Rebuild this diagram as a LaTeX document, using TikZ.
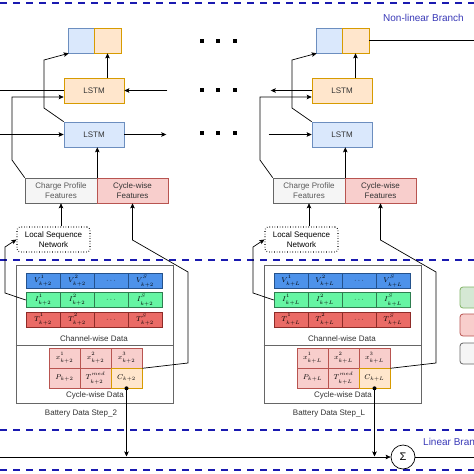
\documentclass[tikz,border=0pt]{standalone}
\usepackage{fontspec}
\setmainfont{Liberation Sans}
\usetikzlibrary{arrows.meta}
\definecolor{dashblue}{HTML}{1A1AB0}
\definecolor{branchblue}{HTML}{3A3AB8}
\definecolor{lblue}{HTML}{DAE8FC}
\definecolor{lblueD}{HTML}{6C8EBF}
\definecolor{lorange}{HTML}{FFE6CC}
\definecolor{lorangeD}{HTML}{D79B00}
\definecolor{lred}{HTML}{F8CECC}
\definecolor{lredD}{HTML}{B85450}
\definecolor{lgray}{HTML}{F5F5F5}
\definecolor{lgrayD}{HTML}{666666}
\definecolor{lgreen}{HTML}{D5E8D4}
\definecolor{lgreenD}{HTML}{82B366}
\definecolor{vfill}{HTML}{4D92EA}
\definecolor{vdraw}{HTML}{24528C}
\definecolor{ifill}{HTML}{66F5A3}
\definecolor{idraw}{HTML}{2E7D4F}
\definecolor{tfill}{HTML}{EA6B66}
\definecolor{tdraw}{HTML}{8E2B28}
\definecolor{txtdark}{HTML}{333333}
\definecolor{txtgray}{HTML}{5A5A5A}
\definecolor{boxgray}{HTML}{666666}
\newcommand{\smath}[3]{$#1^{\raisebox{1.2pt}{$\scriptstyle #2$}}_{\raisebox{-1.2pt}{$\scriptstyle #3$}}$}
\tikzset{
  base/.style={draw, line width=0.6pt, inner sep=0pt, align=center, font=\fontsize{8}{10}\selectfont, text=txtdark},
  lstmBlue/.style={base, fill=lblue, draw=lblueD, minimum width=60pt, minimum height=25pt},
  lstmOrange/.style={base, fill=lorange, draw=lorangeD, minimum width=60pt, minimum height=25pt},
  feat/.style={base, minimum width=72pt, minimum height=25pt},
  lsnbox/.style={base, text=black, draw=black, dotted, line width=1.1pt, rounded corners=3pt, minimum width=73pt, minimum height=25pt},
  batbox/.style={draw=boxgray, line width=0.7pt, fill=white, minimum width=157pt, minimum height=138pt, inner sep=0pt},
  cellbase/.style={draw, line width=0.6pt, inner sep=0pt, font=\fontsize{7}{8}\selectfont},
  vcell/.style={cellbase, fill=vfill, draw=vdraw, minimum width=34pt, minimum height=15pt},
  icell/.style={cellbase, fill=ifill, draw=idraw, minimum width=34pt, minimum height=15pt},
  tcell/.style={cellbase, fill=tfill, draw=tdraw, minimum width=34pt, minimum height=15pt},
  xcell/.style={cellbase, fill=lred, draw=lredD, minimum width=31pt, minimum height=20pt},
  ccell/.style={cellbase, fill=lorange, draw=lorangeD, minimum width=31pt, minimum height=20pt},
  lbl/.style={inner sep=0pt, font=\fontsize{8}{10}\selectfont, text=txtdark},
  conn/.style={line width=0.7pt, draw=black},
  arr/.style={conn, -{Stealth[length=5pt,width=4.5pt,inset=1pt]}},
  dashline/.style={draw=dashblue, line width=2.2pt, dash pattern=on 7pt off 6pt},
  legbox/.style={rounded corners=3pt, line width=0.8pt},
}
\newcommand{\batcol}[4]{%
\begin{scope}[xshift=#2pt]
  \node[base, fill=lblue, draw=lblueD, minimum width=26pt, minimum height=25pt] (#1outB) at (81,40.5) {};
  \node[base, fill=lorange, draw=lorangeD, minimum width=27pt, minimum height=25pt] (#1outO) at (107.5,40.5) {};
  \node[lstmOrange] (#1lstmO) at (94,90.5) {LSTM};
  \node[lstmBlue] (#1lstmB) at (94,134.5) {LSTM};
  \node[feat, fill=lgray, draw=lgrayD, text=txtgray] (#1cpf) at (61,190.5) {Charge Profile\\Features};
  \node[feat, fill=lred, draw=lredD, minimum width=71pt] (#1cwf) at (132.5,190.5) {Cycle-wise\\Features};
  \node[lsnbox] (#1lsn) at (53.5,239.5) {Local Sequence\\Network};
  \node[batbox] (#1bat) at (94.5,334) {};
  \draw[draw=boxgray, line width=0.7pt] (#1bat.west |- 0,345) -- (#1bat.east |- 0,345);
  \node[vcell] (#1v1) at (43,281) {\smath{V}{1}{#3}};
  \node[vcell] (#1v2) at (77,281) {\smath{V}{2}{#3}};
  \node[vcell] (#1v3) at (111,281) {$\cdots$};
  \node[vcell] (#1v4) at (145,281) {\smath{V}{S}{#3}};
  \node[icell] (#1i1) at (43,300) {\smath{I}{1}{#3}};
  \node[icell] (#1i2) at (77,300) {\smath{I}{2}{#3}};
  \node[icell] (#1i3) at (111,300) {$\cdots$};
  \node[icell] (#1i4) at (145,300) {\smath{I}{S}{#3}};
  \node[tcell] (#1t1) at (43,319.5) {\smath{T}{1}{#3}};
  \node[tcell] (#1t2) at (77,319.5) {\smath{T}{2}{#3}};
  \node[tcell] (#1t3) at (111,319.5) {$\cdots$};
  \node[tcell] (#1t4) at (145,319.5) {\smath{T}{S}{#3}};
  \node[lbl] (#1chl) at (94,339) {Channel-wise Data};
  \node[xcell] (#1x1) at (64.5,358) {\smath{x}{1}{#3}};
  \node[xcell] (#1x2) at (95.5,358) {\smath{x}{2}{#3}};
  \node[xcell] (#1x3) at (126.5,358) {\smath{x}{3}{#3}};
  \node[xcell] (#1p) at (64.5,378) {$P_{#3}$};
  \node[xcell] (#1tm) at (95.5,378) {\smath{T}{med}{#3}};
  \node[ccell] (#1c) at (126.5,378) {$C_{#3}$};
  \node[lbl] (#1cyl) at (95,395) {Cycle-wise Data};
  \node[lbl] (#1stl) at (81,414) {Battery Data Step\_#4};
  % connectors
  \draw[arr] (#1lstmO.north -| #1outO.south) -- (#1outO.south);
  \draw[arr] (#1lstmB.north west) -- (44,108) -- (44,60) -- ([xshift=1pt]#1outB.south west);
  \draw[arr] (#1cpf.north east) -- (#1cpf.north east |- #1lstmB.south);
  \draw[arr] (#1cpf.north west) -- (12,160) -- (12,97) -- (#1lstmO.west |- 0,97);
  \draw[arr] (#1lsn.north -| #1cpf.south) -- (#1cpf.south);
  \draw[arr] (#1i1.west) -- (5,293) -- (5,247) -- (#1lsn.west);
  \draw[arr] (#1x3.south east) -- (188,363) -- (188,272) -- (#1cwf.south |- 0,240) -- (#1cwf.south);
  \fill (#1c.south) circle (2pt);
  \draw[arr] (#1c.south) -- (#1c.south |- 0,456.5);
\end{scope}}
\begin{document}
\begin{tikzpicture}[x=1pt,y=-1pt]
\useasboundingbox (0,0) rectangle (474,474);
\clip (0,0) rectangle (474,474);
\fill[white] (0,0) rectangle (474,474);
% branch separators
\draw[dashline] (0,3) -- (474,3);
\draw[dashline] (0,260) -- (474,260);
\draw[dashline] (0,430) -- (474,430);
\draw[dashline] (0,470) -- (474,470);
\node[inner sep=0pt, font=\fontsize{10}{12}\selectfont, text=branchblue] (nlb) at (423.5,18) {Non-linear Branch};
\node[inner sep=0pt, anchor=west, font=\fontsize{10}{12}\selectfont, text=branchblue] (lb) at (423,442) {Linear Branch};
% columns
\batcol{L}{0}{k+2}{2}
\batcol{R}{248}{k+L}{L}
% links between steps
\draw[conn] (LlstmO.west) -- (LlstmO.west -| 0,0);
\draw[arr] (LlstmB.west -| 0,0) -- (LlstmB.west);
\draw[arr] (LlstmB.east) -- ++(42,0);
\draw[arr] ([xshift=43pt]LlstmO.east) -- (LlstmO.east);
\draw[arr] (RlstmO.west) -- ++(-41,0);
\draw[arr] ([xshift=-43pt]RlstmB.west) -- (RlstmB.west);
\draw[conn] (RoutO.east) -- (RoutO.east -| 474,0);
% ellipsis dots
\foreach \yy in {41,90,133}{
  \foreach \xx in {202,218,235}{
    \fill (\xx-2,\yy-2) rectangle (\xx+2,\yy+2);
  }
}
% linear branch
\node[draw=black, line width=0.7pt, circle, minimum size=24pt, inner sep=0pt, font=\fontsize{11}{12}\selectfont] (sum) at (403,457) {Σ};
\coordinate (linL) at (0,457);
\coordinate (linR) at (474,457);
\draw[arr] (linL) -- (sum.west);
\draw[conn] (sum.east) -- (linR);
% legend (cut off at the edge)
\draw[legbox, fill=lgreen, draw=lgreenD] (460,287) rectangle (495,308);
\draw[legbox, fill=lred, draw=lredD] (460,314) rectangle (495,336);
\draw[legbox, fill=lgray, draw=lgrayD] (460,343) rectangle (495,364);
\end{tikzpicture}
\end{document}
